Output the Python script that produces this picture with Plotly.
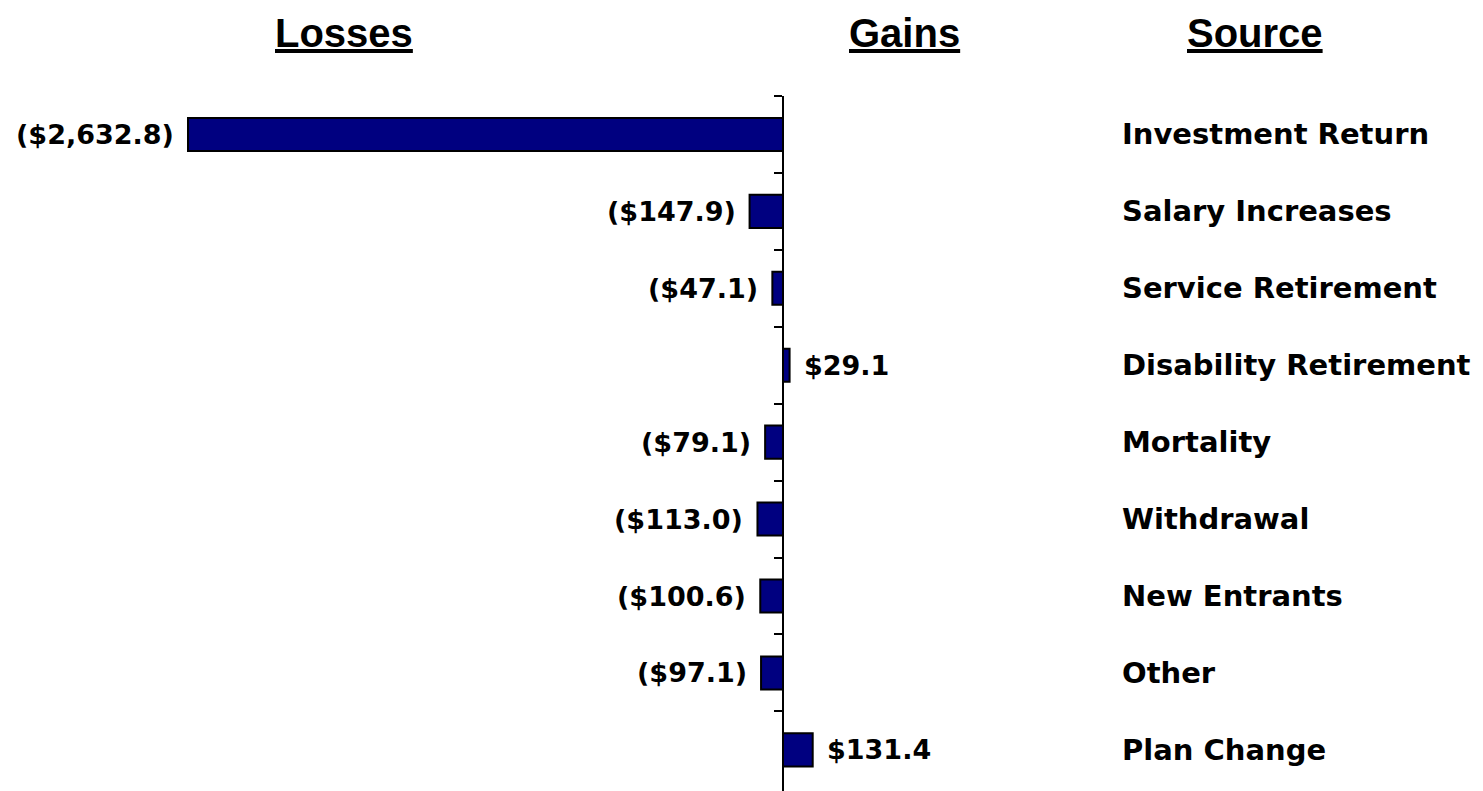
import plotly.graph_objects as go

categories = ["Investment Return", "Salary Increases", "Service Retirement",
              "Disability Retirement", "Mortality", "Withdrawal",
              "New Entrants", "Other", "Plan Change"]
values = [-2632.8, -147.9, -47.1, 29.1, -79.1, -113.0, -100.6, -97.1, 131.4]
headers = ["Losses", "Gains", "Source"]


def fmt(v):
    s = "${:,.1f}".format(abs(v))
    return "({})".format(s) if v < 0 else s


W, H = 1475, 783
fig = go.Figure()
fig.add_trace(go.Bar(
    x=values, y=categories, orientation="h",
    width=0.43,
    marker=dict(color="#000080", line=dict(color="#000000", width=2)),
    hoverinfo="skip",
))

val_font = dict(family="DejaVu Sans", size=27, color="#000000", weight="bold")
src_font = dict(family="DejaVu Sans", size=29, color="#000000", weight="bold")
hdr_font = dict(family="Liberation Sans", size=40, color="#000000", weight="bold",
                lineposition="under")

ann = []
for c, v in zip(categories, values):
    ann.append(dict(x=v, y=c, xref="x", yref="y", text=fmt(v), showarrow=False,
                    xanchor="right" if v < 0 else "left",
                    xshift=-12 if v < 0 else 12, yanchor="middle",
                    font=val_font))
    ann.append(dict(x=1112 / W, y=c, xref="paper", yref="y", text=c, showarrow=False,
                    xanchor="left", yanchor="middle", font=src_font))

hdr_x = [336 / W, 897 / W, 1247 / W]
for h, hx in zip(headers, hdr_x):
    ann.append(dict(x=hx, y=1.0906, xref="paper", yref="paper", text=h,
                    showarrow=False, xanchor="center", yanchor="middle",
                    font=hdr_font))

fig.update_layout(
    width=W, height=H,
    margin=dict(l=0, r=0, t=88, b=0),
    paper_bgcolor="white", plot_bgcolor="white",
    showlegend=False,
    annotations=ann,
    xaxis=dict(range=[-3429.3, 3097.4], showgrid=False, zeroline=False,
               showticklabels=False, showline=False, ticks=""),
    yaxis=dict(type="category", categoryorder="array", categoryarray=categories,
               range=[8.535, -0.5], anchor="free", position=775 / W,
               showline=True, linecolor="#000000", linewidth=2,
               ticks="outside", tickson="boundaries", ticklen=8, tickwidth=2,
               tickcolor="#000000", showticklabels=False, showgrid=False,
               zeroline=False),
)

fig.write_html("out.html")
